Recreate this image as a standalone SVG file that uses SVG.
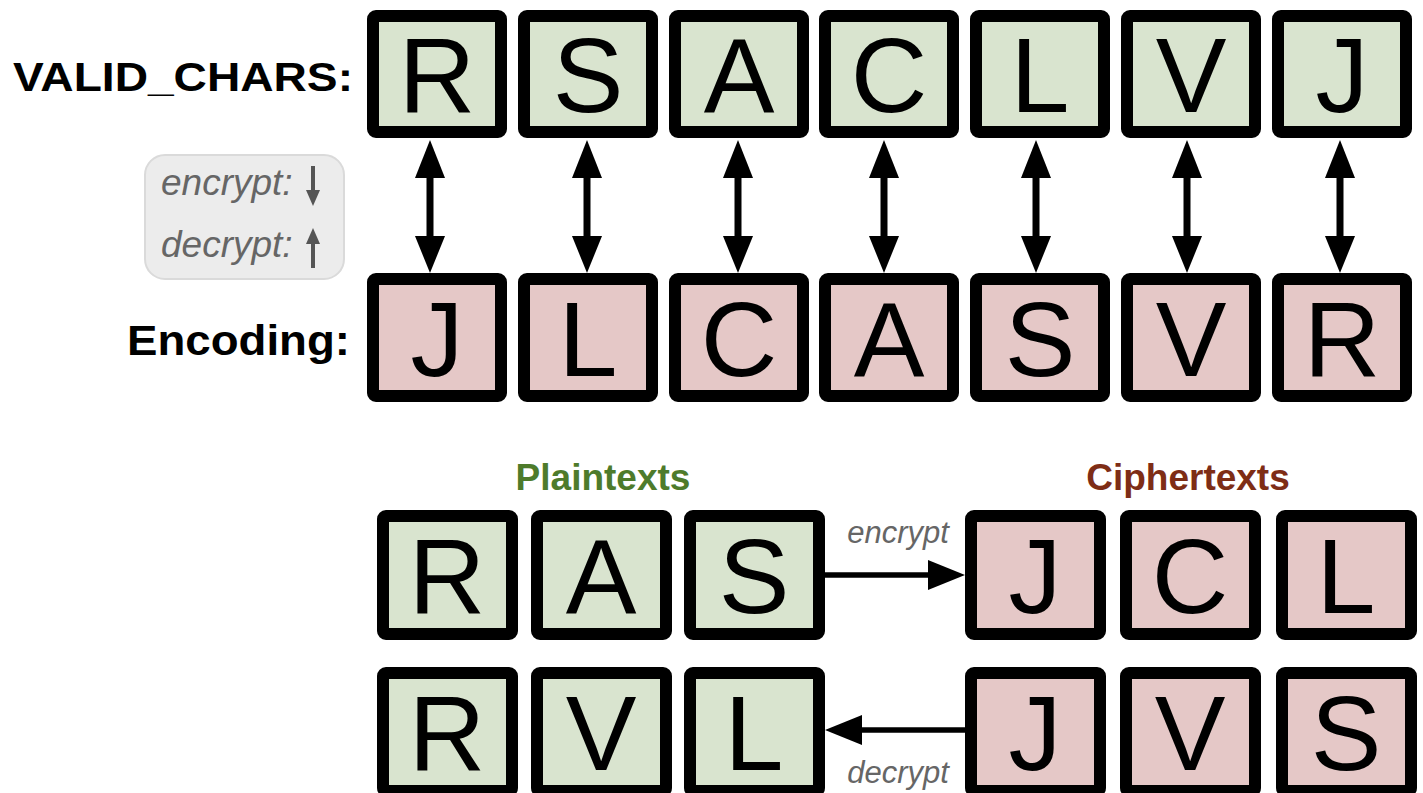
<svg xmlns="http://www.w3.org/2000/svg" width="1423" height="793" viewBox="0 0 1423 793">
<style>
.box{stroke:#000;stroke-width:12;stroke-linejoin:round}
.g{fill:#d9e4cf}
.p{fill:#e5c8c7}
.ch{font-family:"Liberation Sans",Arial,sans-serif;font-size:106px;text-anchor:middle;fill:#000}
.lbl{font-family:"Liberation Sans",Arial,sans-serif;font-weight:bold;fill:#000}
.it{font-family:"Liberation Sans",Arial,sans-serif;font-style:italic;fill:#666}
.hdr{font-family:"Liberation Sans",Arial,sans-serif;font-weight:bold;font-size:37px;text-anchor:middle}
</style>
<rect width="1423" height="793" fill="#fff"/>
<g id="labels">
<text class="lbl" x="13" y="91" font-size="41" textLength="340" lengthAdjust="spacingAndGlyphs">VALID_CHARS:</text>
<text class="lbl" x="127" y="355" font-size="42" textLength="223" lengthAdjust="spacingAndGlyphs">Encoding:</text>
<text class="hdr" x="603" y="490" fill="#4e7b2b">Plaintexts</text>
<text class="hdr" x="1188" y="490" fill="#7e2d16">Ciphertexts</text>
</g>
<g id="legend">
<rect x="145" y="155" width="199" height="124" rx="20" fill="#ececec" stroke="#dadada" stroke-width="2"/>
<text class="it" x="161" y="195" font-size="37">encrypt:</text>
<text class="it" x="161" y="257" font-size="37">decrypt:</text>
<line x1="313" y1="166" x2="313" y2="192" stroke="#555" stroke-width="4"/>
<polygon points="306,190 320,190 313,206" fill="#555"/>
<line x1="313" y1="242" x2="313" y2="268" stroke="#555" stroke-width="4"/>
<polygon points="306,244 320,244 313,228" fill="#555"/>
</g>
<g id="valid-chars">
<g id="v0"><rect class="box g" x="373" y="16" width="128" height="116" rx="3"/><text class="ch" x="437" y="112">R</text></g>
<g id="v1"><rect class="box g" x="524" y="16" width="128" height="116" rx="3"/><text class="ch" x="588" y="112">S</text></g>
<g id="v2"><rect class="box g" x="675" y="16" width="128" height="116" rx="3"/><text class="ch" x="739" y="112">A</text></g>
<g id="v3"><rect class="box g" x="825" y="16" width="128" height="116" rx="3"/><text class="ch" x="889" y="112">C</text></g>
<g id="v4"><rect class="box g" x="976" y="16" width="128" height="116" rx="3"/><text class="ch" x="1040" y="112">L</text></g>
<g id="v5"><rect class="box g" x="1127" y="16" width="128" height="116" rx="3"/><text class="ch" x="1191" y="112">V</text></g>
<g id="v6"><rect class="box g" x="1278" y="16" width="128" height="116" rx="3"/><text class="ch" x="1342" y="112">J</text></g>
</g>
<g id="encoding">
<g id="e0"><rect class="box p" x="373" y="279" width="128" height="117" rx="3"/><text class="ch" x="437" y="376">J</text></g>
<g id="e1"><rect class="box p" x="524" y="279" width="128" height="117" rx="3"/><text class="ch" x="588" y="376">L</text></g>
<g id="e2"><rect class="box p" x="675" y="279" width="128" height="117" rx="3"/><text class="ch" x="739" y="376">C</text></g>
<g id="e3"><rect class="box p" x="825" y="279" width="128" height="117" rx="3"/><text class="ch" x="889" y="376">A</text></g>
<g id="e4"><rect class="box p" x="976" y="279" width="128" height="117" rx="3"/><text class="ch" x="1040" y="376">S</text></g>
<g id="e5"><rect class="box p" x="1127" y="279" width="128" height="117" rx="3"/><text class="ch" x="1191" y="376">V</text></g>
<g id="e6"><rect class="box p" x="1278" y="279" width="128" height="117" rx="3"/><text class="ch" x="1342" y="376">R</text></g>
</g>
<g id="plain1">
<g id="p10"><rect class="box g" x="383" y="516" width="129" height="118" rx="3"/><text class="ch" x="447" y="613">R</text></g>
<g id="p11"><rect class="box g" x="537" y="516" width="129" height="118" rx="3"/><text class="ch" x="601" y="613">A</text></g>
<g id="p12"><rect class="box g" x="690" y="516" width="129" height="118" rx="3"/><text class="ch" x="754" y="613">S</text></g>
</g>
<g id="cipher1">
<g id="c10"><rect class="box p" x="971" y="516" width="129" height="118" rx="3"/><text class="ch" x="1035" y="613">J</text></g>
<g id="c11"><rect class="box p" x="1126" y="516" width="129" height="118" rx="3"/><text class="ch" x="1190" y="613">C</text></g>
<g id="c12"><rect class="box p" x="1282" y="516" width="129" height="118" rx="3"/><text class="ch" x="1346" y="613">L</text></g>
</g>
<g id="plain2">
<g id="p20"><rect class="box g" x="383" y="673" width="129" height="118" rx="3"/><text class="ch" x="447" y="770">R</text></g>
<g id="p21"><rect class="box g" x="537" y="673" width="129" height="118" rx="3"/><text class="ch" x="601" y="770">V</text></g>
<g id="p22"><rect class="box g" x="690" y="673" width="129" height="118" rx="3"/><text class="ch" x="754" y="770">L</text></g>
</g>
<g id="cipher2">
<g id="c20"><rect class="box p" x="971" y="673" width="129" height="118" rx="3"/><text class="ch" x="1035" y="770">J</text></g>
<g id="c21"><rect class="box p" x="1126" y="673" width="129" height="118" rx="3"/><text class="ch" x="1190" y="770">V</text></g>
<g id="c22"><rect class="box p" x="1282" y="673" width="129" height="118" rx="3"/><text class="ch" x="1346" y="770">S</text></g>
</g>
<g id="connectors" fill="#000" stroke="#000">
<g stroke-width="7">
<line x1="430" y1="170" x2="430" y2="242"/>
<line x1="587" y1="170" x2="587" y2="242"/>
<line x1="738" y1="170" x2="738" y2="242"/>
<line x1="884" y1="170" x2="884" y2="242"/>
<line x1="1036" y1="170" x2="1036" y2="242"/>
<line x1="1187" y1="170" x2="1187" y2="242"/>
<line x1="1340" y1="170" x2="1340" y2="242"/>
</g>
<g stroke="none">
<polygon points="430,140 415,178 445,178"/><polygon points="430,273 415,236 445,236"/>
<polygon points="587,140 572,178 602,178"/><polygon points="587,273 572,236 602,236"/>
<polygon points="738,140 723,178 753,178"/><polygon points="738,273 723,236 753,236"/>
<polygon points="884,140 869,178 899,178"/><polygon points="884,273 869,236 899,236"/>
<polygon points="1036,140 1021,178 1051,178"/><polygon points="1036,273 1021,236 1051,236"/>
<polygon points="1187,140 1172,178 1202,178"/><polygon points="1187,273 1172,236 1202,236"/>
<polygon points="1340,140 1325,178 1355,178"/><polygon points="1340,273 1325,236 1355,236"/>
</g>
<line x1="825" y1="575" x2="932" y2="575" stroke-width="5.5"/>
<polygon points="965,575 928,560 928,590" stroke="none"/>
<line x1="965" y1="730" x2="858" y2="730" stroke-width="5.5"/>
<polygon points="825,730 862,715 862,745" stroke="none"/>
<text class="it" x="898" y="543" font-size="31" text-anchor="middle" stroke="none">encrypt</text>
<text class="it" x="898" y="783" font-size="31" text-anchor="middle" stroke="none">decrypt</text>
</g>
</svg>
